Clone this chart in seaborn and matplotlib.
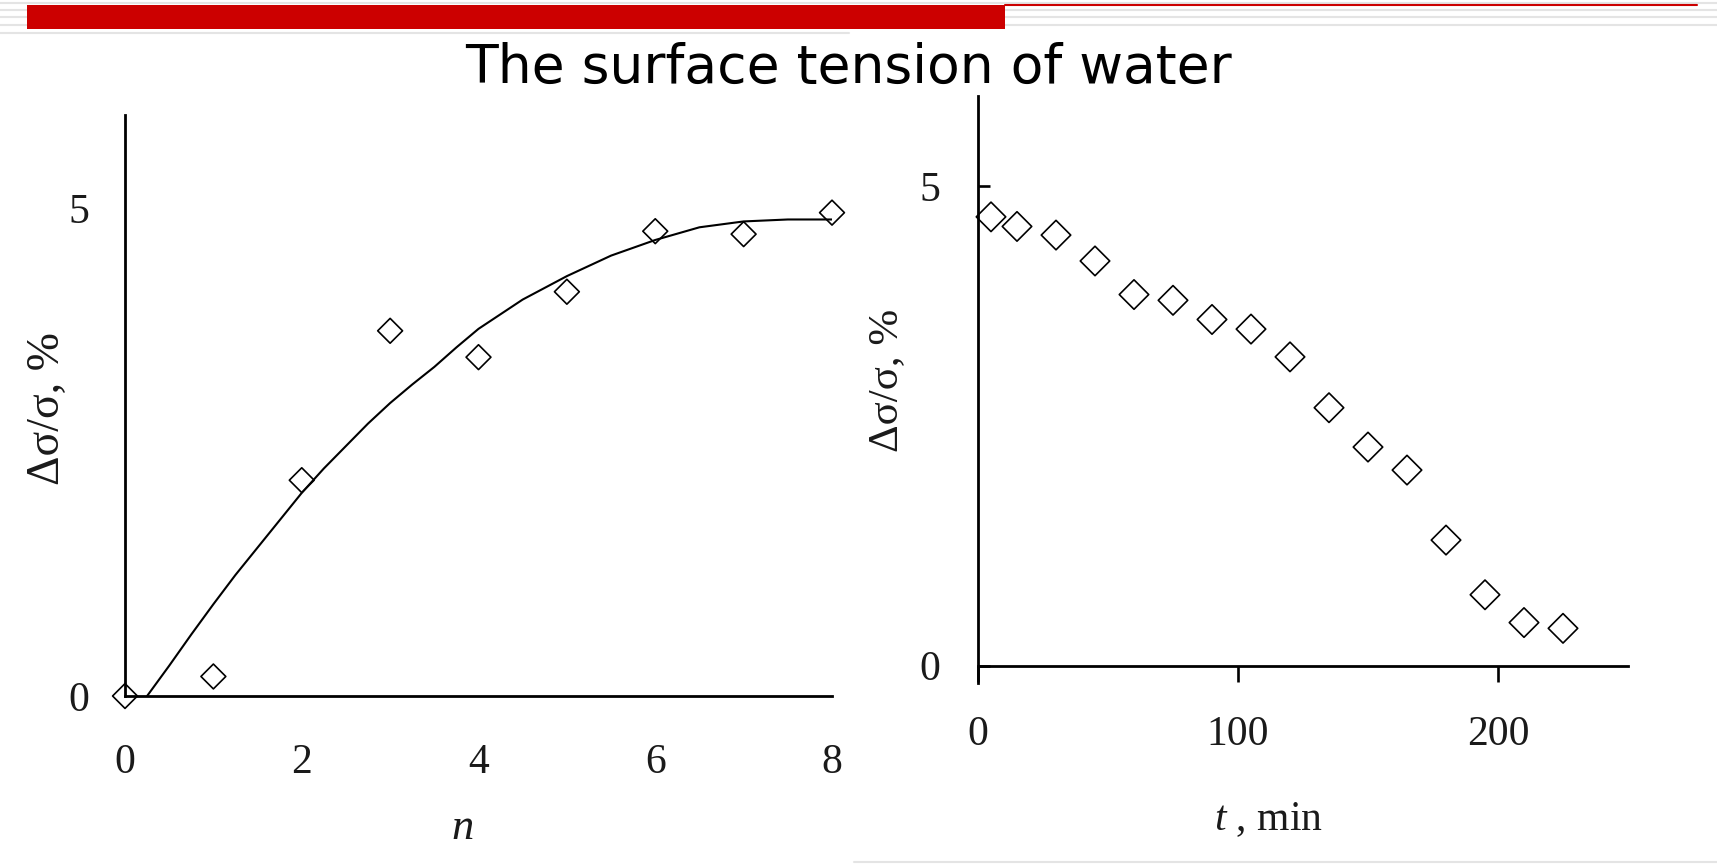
import matplotlib
matplotlib.use("Agg")
import matplotlib.pyplot as plt
import seaborn as sns
import pandas as pd
from matplotlib.patches import Rectangle
from matplotlib.lines import Line2D

# ---------------- data ----------------
n_points = [0, 1, 2, 3, 4, 5, 6, 7, 8]
ds_n = [0.0, 0.2, 2.21, 3.74, 3.47, 4.14, 4.76, 4.73, 4.95]

curve_n = [0.25, 0.5, 0.75, 1.0, 1.25, 1.5, 1.75, 2.0, 2.25, 2.5, 2.75, 3.0, 3.25, 3.5, 3.75,
           4.0, 4.5, 5.0, 5.5, 6.0, 6.5, 7.0, 7.5, 8.0]
curve_y = [0.0, 0.31, 0.63, 0.94, 1.24, 1.52, 1.80, 2.08, 2.33, 2.56, 2.79, 3.00, 3.19, 3.37, 3.57,
           3.76, 4.06, 4.30, 4.51, 4.67, 4.80, 4.86, 4.88, 4.88]

t_min = [5, 15, 30, 45, 60, 75, 90, 105, 120, 135, 150, 165, 180, 195, 210, 225]
ds_t = [4.68, 4.58, 4.49, 4.22, 3.87, 3.81, 3.61, 3.51, 3.22, 2.69, 2.28, 2.04, 1.31, 0.74, 0.45, 0.39]

left_xticks = [0, 2, 4, 6, 8]
left_yticks = [0, 5]
right_xticks = [0, 100, 200]
right_yticks = [0, 5]

title = "The surface tension of water"
ylabel = "Δσ/σ, %"
xlabel_left = "$n$"
xlabel_right = "$t$ , min"

# ---------------- style ----------------
sns.set_theme(style="white")
plt.rcParams["font.family"] = ["Liberation Serif", "DejaVu Serif"]
plt.rcParams["mathtext.fontset"] = "custom"
plt.rcParams["mathtext.rm"] = "Liberation Serif"
plt.rcParams["mathtext.it"] = "Liberation Serif:italic"

W, H = 1717, 865
fig = plt.figure(figsize=(W / 100, H / 100), dpi=100)
fig.patch.set_facecolor("white")

# slide decorations
for yy in [2.7, 10, 17.3, 25]:
    fig.add_artist(Line2D([0, 1], [1 - yy / H, 1 - yy / H], color="#e4e4e4", lw=1.5, zorder=1))
fig.add_artist(Line2D([0, 849 / W], [1 - 33.3 / H, 1 - 33.3 / H], color="#e4e4e4", lw=1.5, zorder=1))
fig.add_artist(Line2D([854 / W, 1], [1 - 862 / H, 1 - 862 / H], color="#e4e4e4", lw=1.5, zorder=1))
fig.add_artist(Rectangle((27 / W, 1 - 29 / H), 978 / W, 24 / H, color="#cc0000", lw=0, zorder=5))
fig.add_artist(Line2D([1005 / W, 1697 / W], [1 - 5.3 / H, 1 - 5.3 / H], color="#cc0000", lw=1.5, zorder=5))

fig.text(848 / W, 1 - 83 / H, title, ha="center", va="baseline",
         fontsize=38.5, family="DejaVu Sans", color="black")

txt_color = "#1a1a1a"
spine_w = 2.0
tick_w = 1.9

# ---------------- left panel ----------------
axL = fig.add_axes([125 / W, 1 - 696 / H, 707 / W, (696 - 115) / H])
sns.lineplot(x=curve_n, y=curve_y, ax=axL, color="black", lw=1.5)
sns.scatterplot(x=n_points, y=ds_n, ax=axL, marker="D", s=160,
                color="black", edgecolor="black", linewidth=1.2, clip_on=False, zorder=3)
axL.collections[-1].set_facecolor("none")
axL.set_xlim(0, 8)
axL.set_ylim(0, 5.95)
axL.set_xticks(left_xticks)
axL.set_yticks(left_yticks)
axL.set_xticklabels([str(v) for v in left_xticks])
axL.set_yticklabels([str(v) for v in left_yticks])
axL.tick_params(axis="x", direction="in", length=10.8, width=tick_w, pad=34,
                labelsize=30, colors="black", labelcolor=txt_color)
axL.tick_params(axis="y", direction="in", length=9.4, width=tick_w, pad=26,
                labelsize=30, colors="black", labelcolor=txt_color)
for s in ["top", "right"]:
    axL.spines[s].set_visible(False)
for s in ["left", "bottom"]:
    axL.spines[s].set_linewidth(spine_w)
    axL.spines[s].set_color("black")
axL.set_ylabel(ylabel, fontsize=33, color=txt_color, va="center", ha="center")
axL.yaxis.set_label_coords((48 - 125) / 707, 0.494)
axL.set_xlabel(xlabel_left, fontsize=32, color=txt_color, va="center", ha="center")
axL.xaxis.set_label_coords(0.477, (696 - 828) / (696 - 115))

# ---------------- right panel ----------------
axR = fig.add_axes([978 / W, 1 - 683 / H, 650 / W, (683 - 96) / H])
sns.scatterplot(x=t_min, y=ds_t, ax=axR, marker="D", s=225,
                color="black", edgecolor="black", linewidth=1.2, clip_on=False, zorder=3)
axR.collections[-1].set_facecolor("none")
axR.set_xlim(0, 250)
axR.set_ylim(-0.18, 5.94)
axR.set_xticks(right_xticks)
axR.set_yticks(right_yticks)
axR.set_xticklabels([str(v) for v in right_xticks])
axR.set_yticklabels([str(v) for v in right_yticks])
axR.spines["bottom"].set_position(("data", 0))
axR.tick_params(axis="x", direction="out", length=11.5, width=tick_w, pad=24,
                labelsize=30, colors="black", labelcolor=txt_color, bottom=True)
axR.tick_params(axis="y", direction="in", length=8.6, width=tick_w, pad=27,
                labelsize=30, colors="black", labelcolor=txt_color, left=True)
for s in ["top", "right"]:
    axR.spines[s].set_visible(False)
for s in ["left", "bottom"]:
    axR.spines[s].set_linewidth(spine_w)
    axR.spines[s].set_color("black")
axR.set_ylabel(ylabel, fontsize=31, color=txt_color, va="center", ha="center")
axR.yaxis.set_label_coords((887 - 978) / 650, (683 - 380) / 587)
axR.set_xlabel(xlabel_right, fontsize=30, color=txt_color, va="center", ha="center")
axR.xaxis.set_label_coords((1268 - 978) / 650, (683 - 820) / 587)

fig.savefig("out.png", dpi=100, facecolor="white")
